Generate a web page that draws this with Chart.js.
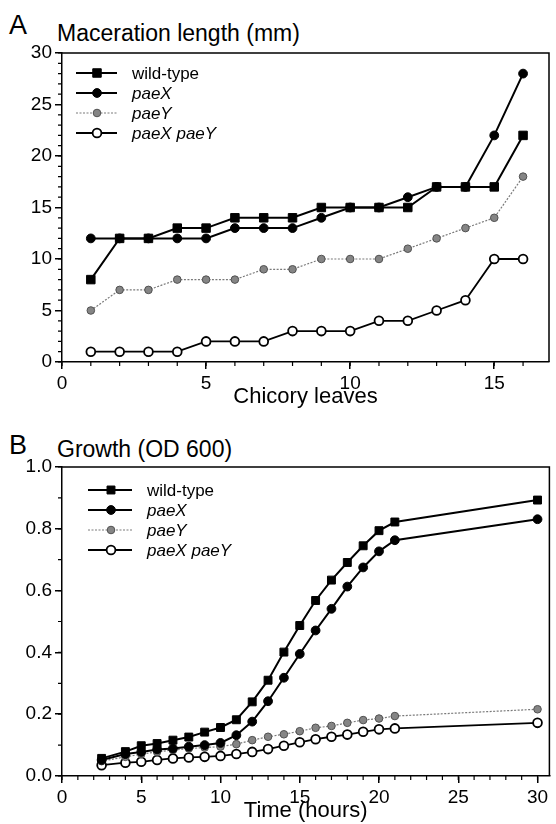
<!DOCTYPE html>
<html><head><meta charset="utf-8">
<script src="https://cdn.jsdelivr.net/npm/chart.js@4.4.0/dist/chart.umd.min.js"></script>
<style>
html,body{margin:0;padding:0;background:#fff;}
body{width:556px;height:824px;position:relative;overflow:hidden;font-family:"Liberation Sans",Arial,sans-serif;color:#000;}
.wrap{position:absolute;left:0;width:556px;}
#wa{top:0;height:410px;}
#wb{top:412px;height:412px;}
.lbl{position:absolute;white-space:nowrap;line-height:1;}
</style></head><body>
<div class="lbl" style="left:9px;top:12px;font-size:27px;">A</div>
<div class="lbl" style="left:57px;top:22px;font-size:23px;">Maceration length (mm)</div>
<div class="lbl" style="left:9px;top:432px;font-size:27px;">B</div>
<div class="lbl" style="left:57px;top:438px;font-size:23px;">Growth (OD 600)</div>
<div class="wrap" id="wa"><canvas id="ca" width="556" height="410"></canvas></div>
<div class="wrap" id="wb"><canvas id="cb" width="556" height="412"></canvas></div>
<script>
// ---------- Panel A data ----------
const leaves = [1,2,3,4,5,6,7,8,9,10,11,12,13,14,15,16];
const macWildType = [8,12,12,13,13,14,14,14,15,15,15,15,17,17,17,22];
const macPaeX     = [12,12,12,12,12,13,13,13,14,15,15,16,17,17,22,28];
const macPaeY     = [5,7,7,8,8,8,9,9,10,10,10,11,12,13,14,18];
const macPaeXPaeY = [1,1,1,1,2,2,2,3,3,3,4,4,5,6,10,10];
const macXTicks = [0,5,10,15];
const macYTicks = [0,5,10,15,20,25,30];

// ---------- Panel B data ----------
const hours = [2.5,4,5,6,7,8,9,10,11,12,13,14,15,16,17,18,19,20,21,30];
const odWildType = [0.057,0.079,0.098,0.105,0.116,0.126,0.142,0.157,0.182,0.240,0.310,0.401,0.487,0.568,0.634,0.691,0.745,0.794,0.822,0.893];
const odPaeX     = [0.052,0.071,0.078,0.086,0.089,0.095,0.100,0.107,0.132,0.176,0.242,0.318,0.395,0.471,0.541,0.613,0.675,0.727,0.763,0.831];
const odPaeY     = [0.048,0.062,0.071,0.078,0.084,0.089,0.092,0.095,0.103,0.116,0.127,0.135,0.145,0.156,0.162,0.172,0.181,0.186,0.194,0.216];
const odPaeXPaeY = [0.035,0.043,0.046,0.052,0.057,0.060,0.062,0.065,0.071,0.078,0.087,0.098,0.109,0.119,0.127,0.134,0.143,0.151,0.154,0.172];
const odXTicks = [0,5,10,15,20,25,30];
const odYTicks = [0,0.2,0.4,0.6,0.8,1.0];

const seriesNames = ['wild-type','paeX','paeY','paeX paeY'];
const seriesItalic = [false,true,true,true];

const FONT = '"Liberation Sans", Arial, sans-serif';

function styles(big){
  return [
    {borderColor:'#000',backgroundColor:'#000',borderWidth:2,pointStyle:'rect',pointRadius:big?6:5.6,pointBorderWidth:1,pointBorderColor:'#000',pointBackgroundColor:'#000'},
    {borderColor:'#000',backgroundColor:'#000',borderWidth:2,pointStyle:'circle',pointRadius:4.4,pointBorderWidth:1,pointBorderColor:'#000',pointBackgroundColor:'#000'},
    {borderColor:'#7a7a7a',backgroundColor:'#808080',borderWidth:1.2,borderDash:[2,1.5],pointStyle:'circle',pointRadius:3.8,pointBorderWidth:1,pointBorderColor:'#505050',pointBackgroundColor:'#858585'},
    {borderColor:'#000',backgroundColor:'#fff',borderWidth:1.8,pointStyle:'circle',pointRadius:4.4,pointBorderWidth:1.8,pointBorderColor:'#000',pointBackgroundColor:'#fff'}
  ];
}

function makeDatasets(xs, ys, big){
  const st = styles(big);
  return ys.map((arr,i)=>Object.assign({
    label: seriesNames[i],
    data: arr.map((v,j)=>({x:xs[j],y:v})),
    tension:0, fill:false
  }, st[i]));
}

function drawMarker(ctx, st, x, y){
  ctx.save();
  ctx.fillStyle = st.pointBackgroundColor;
  ctx.strokeStyle = st.pointBorderColor;
  ctx.lineWidth = st.pointBorderWidth;
  ctx.setLineDash([]);
  ctx.beginPath();
  if (st.pointStyle==='rect'){
    const s = Math.SQRT1_2*st.pointRadius;
    ctx.rect(x-s,y-s,2*s,2*s);
  } else {
    ctx.arc(x,y,st.pointRadius,0,Math.PI*2);
  }
  ctx.fill(); ctx.stroke();
  ctx.restore();
}

const framePlugin = {
  id:'frameMinor',
  afterDraw(chart, args, opts){
    const ctx = chart.ctx, a = chart.chartArea;
    ctx.save();
    ctx.strokeStyle='#000'; ctx.lineWidth=1.5;
    ctx.beginPath();
    ctx.moveTo(a.left,a.top); ctx.lineTo(a.right,a.top); ctx.lineTo(a.right,a.bottom);
    ctx.stroke();
    // minor ticks
    ctx.lineWidth=1.2;
    const xs = chart.scales.x, ys = chart.scales.y;
    const ml = opts.minorLen;
    let n0 = Math.ceil(xs.min/opts.xMinor - 1e-9), n1 = Math.floor(xs.max/opts.xMinor + 1e-9);
    ctx.beginPath();
    for(let n=n0;n<=n1;n++){
      const px = xs.getPixelForValue(n*opts.xMinor);
      ctx.moveTo(px,a.bottom); ctx.lineTo(px,a.bottom+ml);
    }
    n0 = Math.ceil(ys.min/opts.yMinor - 1e-9); n1 = Math.floor(ys.max/opts.yMinor + 1e-9);
    for(let n=n0;n<=n1;n++){
      const py = ys.getPixelForValue(n*opts.yMinor);
      ctx.moveTo(a.left,py); ctx.lineTo(a.left-ml,py);
    }
    ctx.stroke();
    // legend
    const L = opts.legend;
    const ds = chart.data.datasets;
    ds.forEach((d,i)=>{
      const y = L.y0 + i*L.dy;
      ctx.save();
      ctx.strokeStyle = d.borderColor; ctx.lineWidth = d.borderWidth;
      ctx.setLineDash(d.borderDash || []);
      ctx.beginPath(); ctx.moveTo(L.x1,y); ctx.lineTo(L.x2,y); ctx.stroke();
      ctx.restore();
      drawMarker(ctx, d, L.xm, y);
      ctx.fillStyle='#000';
      ctx.font = (seriesItalic[i]?'italic ':'') + L.fontSize + 'px ' + FONT;
      ctx.textBaseline='middle'; ctx.textAlign='left';
      ctx.fillText(d.label, L.xt, y+1);
    });
    ctx.restore();
  }
};

function axisCommon(){
  return {
    type:'linear',
    grid:{display:true,drawOnChartArea:false,drawTicks:true,tickLength:7,color:'#000',lineWidth:1.5},
    border:{display:true,color:'#000',width:1.5},
    ticks:{color:'#000',font:{family:FONT,size:19},padding:3,maxRotation:0,autoSkip:false}
  };
}

function buildChart(canvasId, cfg){
  const x = axisCommon(), y = axisCommon();
  x.min = 0; x.max = cfg.xMax;
  x.afterBuildTicks = s => { s.ticks = cfg.xTicks.map(v=>({value:v})); };
  x.afterFit = s => { s.height = cfg.xAxisH; };
  x.title = {display:true,text:cfg.xTitle,color:'#000',font:{family:FONT,size:22},padding:{top:0,bottom:0}};
  y.min = 0; y.max = cfg.yMax;
  y.afterBuildTicks = s => { s.ticks = cfg.yTicks.map(v=>({value:v})); };
  y.afterFit = s => { s.width = 62; };
  if (cfg.yFmt) y.ticks.callback = cfg.yFmt;
  return new Chart(document.getElementById(canvasId), {
    type:'line',
    data:{datasets: makeDatasets(cfg.xs, cfg.ys, cfg.big)},
    options:{
      responsive:false, animation:false, devicePixelRatio:1,
      layout:{padding:{top:cfg.padTop,right:2,left:0,bottom:0}},
      plugins:{legend:{display:false},tooltip:{enabled:false},
        frameMinor:{xMinor:1,yMinor:cfg.yMinor,minorLen:4,legend:cfg.legend}},
      scales:{x:x,y:y}
    },
    plugins:[framePlugin]
  });
}

buildChart('ca',{
  xs: leaves, ys:[macWildType,macPaeX,macPaeY,macPaeXPaeY], big:true,
  xMax:16.9, yMax:30, xTicks:macXTicks, yTicks:macYTicks, yMinor:1,
  xTitle:'Chicory leaves', xAxisH:48, padTop:53,
  legend:{x1:76,x2:117,xm:97,xt:132,y0:73,dy:20,fontSize:17}
});
buildChart('cb',{
  xs: hours, ys:[odWildType,odPaeX,odPaeY,odPaeXPaeY], big:false,
  xMax:30.75, yMax:1.0, xTicks:odXTicks, yTicks:odYTicks, yMinor:0.1,
  yFmt: v => Number(v).toFixed(1),
  xTitle:'Time (hours)', xAxisH:48, padTop:55,
  legend:{x1:88,x2:132,xm:111,xt:147,y0:78,dy:20,fontSize:17}
});
</script>
</body></html>
